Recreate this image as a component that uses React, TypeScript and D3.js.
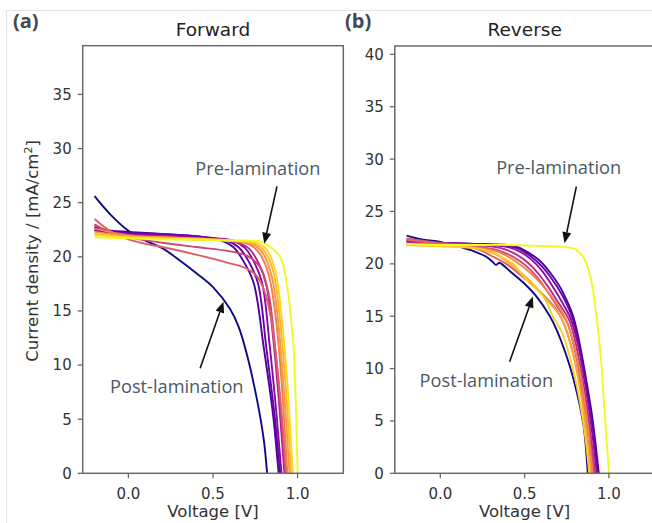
import React from 'react';
import * as d3 from 'd3';

type Pt = [number, number];

const xTicks = [0, 0.5, 1.0];
const fwdYTicks = [0, 5, 10, 15, 20, 25, 30, 35];
const revYTicks = [0, 5, 10, 15, 20, 25, 30, 35, 40];

// ---- Forward scan J-V curves [V, mA/cm2] ----
const fwd0: Pt[] = [[-0.2,25.6],[-0.1,23.8],[0,22.4],[0.1,21.5],[0.2,20.8],[0.3,19.7],[0.4,18.5],[0.5,17.2],[0.6,15.2],[0.65,13.6],[0.7,11.0],[0.76,6.8],[0.8,3.1],[0.82,0],[0.85,-5]];
const fwd1: Pt[] = [[-0.2,22.7],[-0.1,22.4],[0,22.3],[0.2,22.1],[0.4,21.9],[0.55,21.5],[0.62,20.9],[0.68,19.6],[0.74,17.6],[0.8,11.6],[0.855,5.4],[0.888,0],[0.92,-5]];
const fwd2: Pt[] = [[-0.2,22.5],[-0.1,22.3],[0,22.2],[0.2,22.1],[0.4,21.9],[0.58,21.5],[0.65,20.9],[0.71,19.6],[0.765,17.6],[0.815,11.6],[0.865,5.2],[0.897,0],[0.93,-5]];
const fwd3: Pt[] = [[-0.2,22.4],[0,22.1],[0.2,22.0],[0.4,21.8],[0.62,21.5],[0.69,20.8],[0.74,19.6],[0.79,17.6],[0.835,11.8],[0.875,5.5],[0.905,0],[0.935,-5]];
const fwd4: Pt[] = [[-0.2,22.9],[-0.1,22.2],[0,22.0],[0.2,21.9],[0.4,21.7],[0.62,21.4],[0.71,20.8],[0.77,19.4],[0.815,17.4],[0.86,11.8],[0.895,5.6],[0.922,0],[0.95,-5]];
const fwd5: Pt[] = [[-0.2,23.0],[-0.1,22.2],[0,21.8],[0.2,21.3],[0.4,20.9],[0.6,20.5],[0.7,20.1],[0.78,19.0],[0.83,16.5],[0.87,11.2],[0.905,5.0],[0.93,0],[0.96,-5]];
const fwd6: Pt[] = [[-0.2,23.5],[-0.1,22.3],[0,21.6],[0.1,21.2],[0.2,20.9],[0.4,20.2],[0.6,19.4],[0.7,18.9],[0.76,18.2],[0.8,17.0],[0.84,14.6],[0.875,10.5],[0.91,4.8],[0.935,0],[0.965,-5]];
const fwd7: Pt[] = [[-0.2,22.6],[0,22.0],[0.2,21.8],[0.4,21.7],[0.6,21.5],[0.72,21.1],[0.78,20.2],[0.83,18.3],[0.87,14.5],[0.905,8.5],[0.94,0],[0.97,-6]];
const fwd8: Pt[] = [[-0.2,22.3],[0,21.9],[0.2,21.8],[0.4,21.7],[0.6,21.5],[0.74,21.1],[0.8,20.2],[0.85,18.0],[0.885,14.0],[0.92,7.5],[0.952,0],[0.98,-6]];
const fwd9: Pt[] = [[-0.2,22.1],[0,21.8],[0.2,21.7],[0.4,21.6],[0.6,21.5],[0.75,21.2],[0.81,20.4],[0.86,18.4],[0.895,14.3],[0.93,8.0],[0.962,0],[0.99,-6]];
const fwd10: Pt[] = [[-0.2,22.0],[0,21.8],[0.2,21.7],[0.4,21.6],[0.6,21.5],[0.76,21.3],[0.82,20.6],[0.87,18.6],[0.905,14.5],[0.94,8.2],[0.972,0],[1.0,-6]];
const fwd11: Pt[] = [[-0.2,21.8],[0,21.7],[0.2,21.6],[0.4,21.6],[0.6,21.5],[0.78,21.4],[0.84,20.9],[0.9,19.9],[0.935,17.6],[0.96,14.5],[0.976,11.7],[0.99,6.0],[1.0,0],[1.01,-6]];
const fwdCurves: Pt[][] = [fwd0, fwd1, fwd2, fwd3, fwd4, fwd5, fwd6, fwd7, fwd8, fwd9, fwd10, fwd11];
const fwdShade = [0, 0.12, 0.2, 0.28, 0.38, 0.5, 0.58, 0.68, 0.76, 0.84, 0.92, 1];

// ---- Reverse scan J-V curves ----
const rev0: Pt[] = [[-0.2,22.7],[-0.1,22.3],[0,22.1],[0.1,21.7],[0.2,21.2],[0.27,20.7],[0.31,20.2],[0.33,19.9],[0.35,20.1],[0.37,19.9],[0.42,19.2],[0.5,18.1],[0.57,16.9],[0.65,15.0],[0.69,13.7],[0.74,11.6],[0.79,9.0],[0.85,4.5],[0.875,0],[0.9,-5]];
const rev1: Pt[] = [[-0.2,22.3],[0,22.0],[0.2,21.9],[0.4,21.8],[0.46,21.6],[0.52,21.1],[0.59,20.3],[0.65,19.2],[0.71,17.8],[0.75,16.5],[0.79,14.9],[0.83,12.1],[0.87,8.5],[0.9,5.5],[0.94,0],[0.97,-5]];
const rev2: Pt[] = [[-0.2,22.1],[0,22.0],[0.2,21.9],[0.4,21.7],[0.47,21.4],[0.53,20.8],[0.6,19.8],[0.66,18.6],[0.72,17.1],[0.78,15.0],[0.82,12.4],[0.86,8.8],[0.9,4.6],[0.935,0],[0.965,-5]];
const rev3: Pt[] = [[-0.2,22.2],[0,22.0],[0.2,21.9],[0.4,21.6],[0.48,21.1],[0.54,20.4],[0.6,19.4],[0.66,18.0],[0.72,16.4],[0.775,14.7],[0.82,12.0],[0.86,8.4],[0.895,4.6],[0.928,0],[0.96,-5]];
const rev4: Pt[] = [[-0.2,22.0],[0,21.9],[0.2,21.8],[0.36,21.5],[0.45,20.9],[0.52,20.1],[0.58,19.1],[0.64,17.8],[0.7,16.3],[0.765,14.6],[0.81,11.9],[0.85,8.4],[0.885,4.6],[0.918,0],[0.95,-5]];
const rev5: Pt[] = [[-0.2,22.4],[0,22.0],[0.2,21.7],[0.34,21.3],[0.44,20.6],[0.51,19.8],[0.57,18.8],[0.63,17.5],[0.69,16.0],[0.755,14.3],[0.8,11.6],[0.845,7.8],[0.88,4.0],[0.91,0],[0.94,-5]];
const rev6: Pt[] = [[-0.2,22.3],[0,21.9],[0.2,21.5],[0.31,20.7],[0.4,19.9],[0.5,18.6],[0.6,17.2],[0.69,15.6],[0.74,14.0],[0.8,10.6],[0.85,6.4],[0.9,0],[0.93,-5]];
const rev7: Pt[] = [[-0.2,21.9],[0,21.8],[0.2,21.6],[0.35,21.1],[0.45,20.2],[0.55,18.9],[0.65,17.1],[0.745,14.7],[0.8,11.8],[0.85,7.6],[0.903,0],[0.93,-5]];
const rev8: Pt[] = [[-0.2,21.8],[0,21.7],[0.2,21.5],[0.33,20.9],[0.43,19.8],[0.53,18.4],[0.63,16.6],[0.72,14.8],[0.78,11.9],[0.84,7.0],[0.893,0],[0.92,-5]];
const rev9: Pt[] = [[-0.2,21.8],[0,21.7],[0.2,21.5],[0.3,21.2],[0.38,20.5],[0.43,20.0],[0.51,18.5],[0.61,16.9],[0.67,14.9],[0.72,13.5],[0.77,11.0],[0.82,7.5],[0.86,3.5],[0.883,0],[0.91,-5]];
const rev10: Pt[] = [[-0.2,21.9],[0,21.8],[0.2,21.8],[0.4,21.8],[0.6,21.7],[0.75,21.6],[0.8,21.4],[0.83,21.0],[0.86,20.3],[0.88,19.4],[0.905,17.6],[0.925,15.2],[0.945,12.2],[0.96,9.5],[0.975,5.8],[0.99,2.4],[1.0,0],[1.01,-3]];
const revCurves: Pt[][] = [rev0, rev1, rev2, rev3, rev4, rev5, rev6, rev7, rev8, rev9, rev10];
const revShade = [0, 0.1, 0.2, 0.3, 0.42, 0.52, 0.6, 0.7, 0.8, 0.9, 1];

// ---- annotations (data coordinates) ----
const fwdNotes = [
  { text: 'Pre-lamination', tx: 0.765, ty: 27.6, from: [0.878, 26.5], to: [0.803, 21.2] },
  { text: 'Post-lamination', tx: 0.286, ty: 7.4, from: [0.424, 9.7], to: [0.562, 15.85] },
];
const revNotes = [
  { text: 'Pre-lamination', tx: 0.702, ty: 28.6, from: [0.807, 27.37], to: [0.737, 21.97] },
  { text: 'Post-lamination', tx: 0.273, ty: 8.2, from: [0.411, 10.66], to: [0.549, 16.87] },
];

const TICK_FONT = 'DejaVu Sans, sans-serif';
const NOTE_FONT = 'Open Sans, sans-serif';

interface PanelProps {
  id: string;
  title: string;
  letter: string;
  left: number;
  right: number;
  top: number;
  bottom: number;
  yMax: number;
  yTicks: number[];
  curves: Pt[][];
  shades: number[];
  notes: typeof fwdNotes;
  letterX: number;
}

function Arrow({ x1, y1, x2, y2 }: { x1: number; y1: number; x2: number; y2: number }) {
  const ang = Math.atan2(y2 - y1, x2 - x1);
  const L = 11, W = 4.5;
  const bx = x2 - L * Math.cos(ang), by = y2 - L * Math.sin(ang);
  const px = -Math.sin(ang), py = Math.cos(ang);
  return (
    <g>
      <line x1={x1} y1={y1} x2={bx} y2={by} stroke="#111" strokeWidth={1.6} />
      <path d={`M${x2},${y2}L${bx + px * W},${by + py * W}L${bx - px * W},${by - py * W}Z`} fill="#111" />
    </g>
  );
}

function Panel(p: PanelProps) {
  const x = d3.scaleLinear().domain([-0.27, 1.27]).range([p.left, p.right]);
  const y = d3.scaleLinear().domain([0, p.yMax]).range([p.bottom, p.top]);
  const line = d3.line<Pt>().x(d => x(d[0])).y(d => y(d[1])).curve(d3.curveCatmullRom.alpha(0.5));
  const cx = (p.left + p.right) / 2;
  return (
    <g>
      <defs>
        <clipPath id={p.id}>
          <rect x={p.left} y={p.top} width={p.right - p.left} height={p.bottom - p.top} />
        </clipPath>
      </defs>
      <g clipPath={`url(#${p.id})`}>
        {p.curves.map((c, i) => (
          <path key={i} d={line(c) || ''} fill="none" stroke={d3.interpolatePlasma(p.shades[i])} strokeWidth={1.9} strokeLinejoin="round" />
        ))}
      </g>
      <rect x={p.left} y={p.top} width={p.right - p.left} height={p.bottom - p.top} fill="none" stroke="#6a6a6a" strokeWidth={1.5} />
      {p.yTicks.map(t => (
        <g key={'y' + t}>
          <line x1={p.left - 5} x2={p.left} y1={y(t)} y2={y(t)} stroke="#6a6a6a" strokeWidth={1.3} />
          <text x={p.left - 11} y={y(t)} dy="0.36em" textAnchor="end" fontFamily={TICK_FONT} fontSize={15} fill="#333">{t}</text>
        </g>
      ))}
      {xTicks.map(t => (
        <g key={'x' + t}>
          <line x1={x(t)} x2={x(t)} y1={p.bottom} y2={p.bottom + 5} stroke="#6a6a6a" strokeWidth={1.3} />
          <text x={x(t)} y={p.bottom + 20} dy="0.36em" textAnchor="middle" fontFamily={TICK_FONT} fontSize={15} fill="#333">{t.toFixed(1)}</text>
        </g>
      ))}
      <text x={cx} y={517} textAnchor="middle" fontFamily={TICK_FONT} fontSize={16.5} fill="#333">Voltage [V]</text>
      <text x={cx} y={36} textAnchor="middle" fontFamily={TICK_FONT} fontSize={18.5} fill="#222">{p.title}</text>
      <text x={p.letterX} y={28} fontFamily={NOTE_FONT} fontWeight="bold" fontSize={20} fill="#3f4a56">{p.letter}</text>
      {p.notes.map((n, i) => (
        <g key={'n' + i}>
          <text x={x(n.tx)} y={y(n.ty)} textAnchor="middle" fontFamily={NOTE_FONT} fontSize={18.2} fill="#4b5866">{n.text}</text>
          <Arrow x1={x(n.from[0])} y1={y(n.from[1])} x2={x(n.to[0])} y2={y(n.to[1])} />
        </g>
      ))}
    </g>
  );
}

export default function App() {
  return (
    <svg width={652} height={523} style={{ position: 'absolute', left: 0, top: 0, background: '#fff' }}>
      <rect x={0} y={0} width={652} height={523} fill="#fff" />
      <line x1={6.5} y1={10.5} x2={652} y2={10.5} stroke="#e4e4e4" strokeWidth={1} />
      <line x1={6.5} y1={10.5} x2={6.5} y2={523} stroke="#e4e4e4" strokeWidth={1} />
      <Panel id="clipF" title="Forward" letter="(a)" letterX={13} left={82.7} right={343.3} top={45.7} bottom={473.3}
        yMax={39.5} yTicks={fwdYTicks} curves={fwdCurves} shades={fwdShade} notes={fwdNotes} />
      <Panel id="clipR" title="Reverse" letter="(b)" letterX={345} left={394.8} right={654.4} top={46} bottom={473.3}
        yMax={40.8} yTicks={revYTicks} curves={revCurves} shades={revShade} notes={revNotes} />
      <text transform="translate(38,251) rotate(-90)" textAnchor="middle" fontFamily={TICK_FONT} fontSize={16.5} fill="#333">
        Current density / [mA/cm<tspan fontSize={11} dy={-6}>2</tspan><tspan dy={6}>]</tspan>
      </text>
    </svg>
  );
}
